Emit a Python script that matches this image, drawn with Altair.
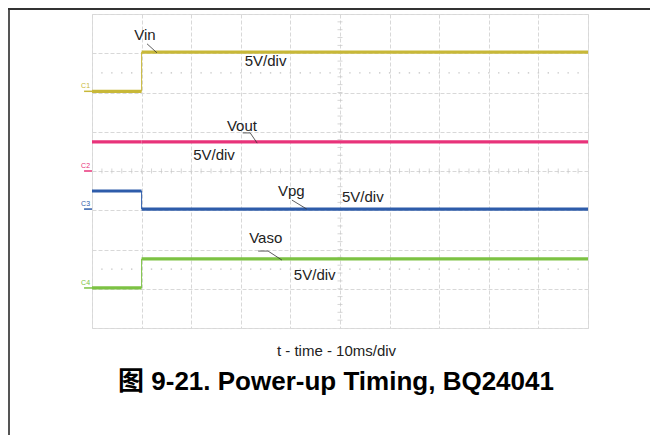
import altair as alt
import pandas as pd

# ---- data (time in ms, 10 ms/div; amplitude in screen divisions, 5 V/div) ----
channels = ["Vin", "Vout", "Vpg", "Vaso"]
tags = ["C1", "C2", "C3", "C4"]
colors = ["#c8b838", "#e8337a", "#2e5caa", "#7cc243"]
t_start, t_step, t_end = 0, 10, 100
level_before = [2.03, 0.74, -0.51, -2.98]
level_after = [3.03, 0.74, -0.97, -2.24]
ground = [2.03, 0.0, -0.97, -2.98]

label_text = ["Vin", "5V/div", "Vout", "5V/div", "Vpg", "5V/div", "Vaso", "5V/div"]
label_t = [8.5, 30.8, 27.2, 20.4, 37.5, 50.4, 31.7, 40.7]
label_v = [3.46, 2.80, 1.15, 0.41, -0.51, -0.66, -1.71, -2.65]

leader_t = [11.1, 30.4, 31.9, 40.3, 33.5, 35.5]
leader_t2 = [13.1, 31.9, 33.3, 43.3, 35.5, 38.3]
leader_v = [3.24, 0.97, 0.97, -0.74, -2.04, -2.04]
leader_v2 = [3.01, 0.97, 0.71, -0.97, -2.04, -2.27]

grid_t = [0, 10, 20, 30, 40, 50, 60, 70, 80, 90, 100]
grid_v = [-4, -3, -2, -1, 0, 1, 2, 3, 4]
minor_t = [2 * i for i in range(1, 50)]
minor_v = [round(0.2 * i, 2) for i in range(-19, 20)]
dot_rows = [2.5, -2.5]

FONT = "Liberation Sans, Arial, Noto Sans CJK SC"
W, H = 496, 314

xs = alt.Scale(domain=[t_start, t_end], nice=False, zero=False)
ys = alt.Scale(domain=[-4, 4], nice=False, zero=False)
XAX = alt.Axis(values=grid_t, labels=False, ticks=False, domain=False, grid=True,
               gridColor="#d8d8d8", gridDash=[4, 2], gridWidth=1,
               title="t - time - 10ms/div", titleFont=FONT, titleFontSize=15,
               titleFontWeight="normal", titleColor="#222222", titlePadding=15, titleX=W / 2 - 4)
YAX = alt.Axis(values=grid_v, labels=False, ticks=False, domain=False, grid=True,
               gridColor="#d8d8d8", gridDash=[4, 2], gridWidth=1, title=None)


def X(f):
    return alt.X(f, type="quantitative", scale=xs, axis=XAX)


def Y(f):
    return alt.Y(f, type="quantitative", scale=ys, axis=YAX)


color_scale = alt.Scale(domain=channels, range=colors)

# traces
seg = pd.DataFrame({
    "ch": channels * 2,
    "t": [t_start] * 4 + [t_step] * 4,
    "t2": [t_step] * 4 + [t_end] * 4,
    "v": level_before + level_after,
})
edge = pd.DataFrame({"ch": channels, "t": [t_step] * 4, "v": level_before, "v2": level_after})
marks = pd.DataFrame({"ch": channels, "tag": tags, "v": ground,
                      "t": [-1.3] * 4, "tl": [-1.6] * 4, "t0": [0] * 4})
labels = pd.DataFrame({"text": label_text, "t": label_t, "v": label_v})
leaders = pd.DataFrame({"t": leader_t, "t2": leader_t2, "v": leader_v, "v2": leader_v2})
cross_h = pd.DataFrame({"t": minor_t, "v": [0] * len(minor_t)})
cross_v = pd.DataFrame({"t": [50] * len(minor_v), "v": minor_v})
dots = pd.DataFrame({"t": minor_t * 2, "v": [dot_rows[0]] * len(minor_t) + [dot_rows[1]] * len(minor_t)})

grid_layer = alt.Chart(cross_h).mark_tick(orient="vertical", size=5, thickness=1, color="#c4c4c4").encode(
    x=X("t"), y=Y("v"))
grid_layer2 = alt.Chart(cross_v).mark_tick(orient="horizontal", size=5, thickness=1, color="#c4c4c4").encode(
    x=X("t"), y=Y("v"))
dot_layer = alt.Chart(dots).mark_square(size=2, color="#c8c8c8", opacity=1).encode(x=X("t"), y=Y("v"))

trace = alt.Chart(seg).mark_rule(strokeWidth=3.2).encode(
    x=X("t"), x2="t2", y=Y("v"),
    color=alt.Color("ch:N", scale=color_scale, legend=None))
steps = alt.Chart(edge).mark_rule(strokeWidth=1).encode(
    x=X("t"), y=Y("v"), y2="v2",
    color=alt.Color("ch:N", scale=color_scale, legend=None))

tag_line = alt.Chart(marks).mark_rule(strokeWidth=1.5, clip=False).encode(
    x=X("tl"), x2="t0", y=Y("v"),
    color=alt.Color("ch:N", scale=color_scale, legend=None))
tag_text = alt.Chart(marks).mark_text(fontSize=7, font=FONT, dy=-5, align="center", clip=False).encode(
    x=X("t"), y=Y("v"), text="tag:N",
    color=alt.Color("ch:N", scale=color_scale, legend=None))

leader_layer = alt.Chart(leaders).mark_rule(strokeWidth=0.8, color="#333333").encode(
    x=X("t"), x2="t2", y=Y("v"), y2="v2")
label_layer = alt.Chart(labels).mark_text(fontSize=15, font=FONT, align="left", baseline="middle",
                                          color="#222222").encode(
    x=X("t"), y=Y("v"), text="text:N")

frame_left = alt.Chart(labels).mark_rule(strokeWidth=2, color="#555555", clip=False).encode(
    x=alt.value(-83), y=alt.value(-6), y2=alt.value(H + 107))
frame_top = alt.Chart(labels).mark_rule(strokeWidth=2, color="#333333", clip=False).encode(
    y=alt.value(-5), x=alt.value(-84), x2=alt.value(W + 62))

chart = alt.layer(
    grid_layer, grid_layer2, dot_layer, trace, steps, tag_line, tag_text,
    leader_layer, label_layer, frame_left, frame_top,
).properties(
    width=W, height=H,
    autosize=alt.AutoSizeParams(type="none"),
    padding={"left": 84, "top": 6, "right": 62, "bottom": 107},
    title=alt.TitleParams("图 9-21. Power-up Timing, BQ24041", orient="bottom", anchor="middle",
                          font=FONT, fontSize=26, fontWeight="bold", color="#000000",
                          offset=-67, dx=-4),
).configure_view(stroke="#c6c6c6", strokeWidth=1).configure(background="white")

chart.save("out.html", embed_options={"renderer": "svg", "actions": False})
